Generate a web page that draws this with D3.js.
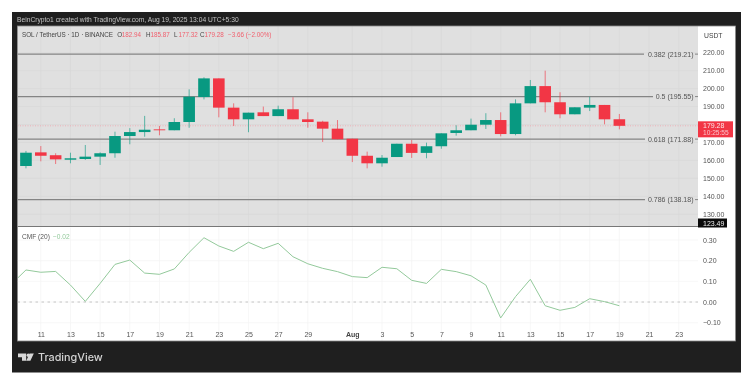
<!DOCTYPE html>
<html lang="en">
<head>
    <meta charset="UTF-8">
    <title>SOL / TetherUS 1D</title>
    <script src="https://d3js.org/d3.v7.min.js"></script>
    <style>
        html, body { margin: 0; padding: 0; background: #fff; overflow: hidden; }
        svg { display: block; filter: blur(0.45px); }
        text { font-family: "Liberation Sans", Arial, sans-serif; font-size: 7px; fill: #555; }
        .axis path, .axis line { display: none; }
        .axis text { font-family: "Liberation Sans", Arial, sans-serif; font-size: 7px; fill: #555; }
    </style>
</head>
<body>
    <svg width="752" height="386"></svg>
    <script>
        // Jul 10 -> Aug 19, one entry per candle
        const days = ["07-10","07-11","07-12","07-13","07-14","07-15","07-16","07-17","07-18","07-19","07-20","07-21","07-22","07-23","07-24","07-25","07-26","07-27","07-28","07-29","07-30","07-31","08-01","08-02","08-03","08-04","08-05","08-06","08-07","08-08","08-09","08-10","08-11","08-12","08-13","08-14","08-15","08-16","08-17","08-18","08-19"];
        const opens = [156.9,164.5,162.9,160.4,160.8,162.1,164,173.6,175.8,177.3,176.8,181.4,195.3,205.7,189.4,182.9,186.8,184.7,188.5,182.9,181.6,177.7,172.1,162.6,158.4,161.9,169.3,164.2,167.9,175.3,176.8,179.9,182.5,174.7,191.8,201.4,192.4,185.7,189.4,190.9,182.94];
        const highs = [165.3,168,164,164.3,168.6,164.5,176,178,184.8,179.2,183.5,199.6,206.3,205.7,191.8,186.6,190,190.5,195.2,186.8,182.1,182.5,172.1,164.9,163,169.3,171.4,169.9,175.1,179.6,183.3,186.3,186.8,194,204.8,210,198,189.6,195.5,190.9,185.87];
        const lows = [155.6,159.5,158,158.4,160.3,157.5,161.5,169,173.2,174,176.8,178.2,194,184,179.2,175.7,184.7,184.7,182.9,178.2,170.3,171.8,159.1,155.6,156.5,161.9,161.4,161.2,166.5,173.8,176.8,177.5,173.4,174,191.8,186.8,183.5,185.7,187.5,180.1,177.32];
        const closes = [164.3,162.6,160.6,161.2,162.1,164,173.6,175.8,177.1,176.8,181.4,195.5,205.7,189.4,182.9,186.6,184.7,188.5,182.9,181.4,177.7,171.8,162.6,158.4,161.5,169.3,164.2,167.9,175.1,176.8,179.9,182.5,174.7,191.8,201.4,192.4,185.7,189.6,190.9,182.9,179.28];

        // CMF has one more point than the candles, the Jul 9 value is cut by the pane edge
        const cmfDays = ["07-09"].concat(days);
        const cmfValues = [0.085,0.155,0.144,0.148,0.082,0.003,0.09,0.182,0.203,0.14,0.134,0.16,0.24,0.311,0.271,0.245,0.289,0.258,0.284,0.219,0.185,0.163,0.147,0.123,0.118,0.168,0.161,0.105,0.09,0.158,0.147,0.127,0.082,-0.077,0.026,0.11,-0.018,-0.04,-0.026,0.016,0.002,-0.018];

        const priceTicks = [220,210,200,190,170,160,150,140,130];
        const priceGrid = [220,210,200,190,180,170,160,150,140,130];
        const cmfTicks = [0.3,0.2,0.1,0,-0.1];
        const fibLevels = [0.382,0.5,0.618,0.786];
        const fibPrices = [219.21,195.55,171.88,138.18];
        const timeTicks = ["07-11","07-13","07-15","07-17","07-19","07-21","07-23","07-25","07-27","07-29","08-01","08-03","08-05","08-07","08-09","08-11","08-13","08-15","08-17","08-19","08-21","08-23"];

        const lastPrice = 179.28;
        const lowPrice = 123.49;

        const parseDay = s => new Date(`2025-${s}T00:00:00Z`);
        const plotLeft = 17.5, axisLeft = 698, plotRight = 735.5;
        const priceTop = 26, priceBottom = 226, cmfTop = 227.5, cmfBottom = 341;

        const x = d3.scaleUtc().domain([parseDay("07-11"), parseDay("08-23")]).range([40.8, 678.7]);
        const y = d3.scaleLinear().domain([220, 130]).range([52.7, 214.3]);
        const yCmf = d3.scaleLinear().domain([0.3, -0.1]).range([240, 322.7]);

        const svg = d3.select("svg");
        const defs = svg.append("defs");
        defs.append("clipPath").attr("id", "cmf-clip").append("rect")
            .attr("x", plotLeft).attr("y", cmfTop).attr("width", axisLeft - plotLeft).attr("height", cmfBottom - cmfTop);

        // frame and panes
        svg.append("rect").attr("x", 12).attr("y", 12).attr("width", 729).attr("height", 360.5).attr("fill", "#1f1f1f");
        svg.append("rect").attr("x", plotLeft).attr("y", priceTop).attr("width", plotRight - plotLeft).attr("height", cmfBottom - priceTop).attr("fill", "#fff");
        svg.append("rect").attr("x", plotLeft).attr("y", priceTop).attr("width", axisLeft - plotLeft).attr("height", priceBottom - priceTop).attr("fill", "#e0e0e0");

        // grid
        svg.append("g").selectAll("line").data(timeTicks).enter().append("line")
            .attr("x1", d => x(parseDay(d))).attr("x2", d => x(parseDay(d)))
            .attr("y1", priceTop).attr("y2", priceBottom).attr("stroke", "#d9d9d9").attr("stroke-width", 0.7);
        svg.append("g").selectAll("line").data(priceGrid).enter().append("line")
            .attr("x1", plotLeft).attr("x2", axisLeft)
            .attr("y1", d => y(d)).attr("y2", d => y(d)).attr("stroke", "#d9d9d9").attr("stroke-width", 0.7);
        svg.append("g").selectAll("line").data(timeTicks).enter().append("line")
            .attr("x1", d => x(parseDay(d))).attr("x2", d => x(parseDay(d)))
            .attr("y1", cmfTop).attr("y2", cmfBottom).attr("stroke", "#f3f3f3").attr("stroke-width", 0.7);
        svg.append("g").selectAll("line").data(cmfTicks).enter().append("line")
            .attr("x1", plotLeft).attr("x2", axisLeft)
            .attr("y1", d => yCmf(d)).attr("y2", d => yCmf(d)).attr("stroke", "#f3f3f3").attr("stroke-width", 0.7);

        // fib levels, the line stops where the label starts
        const fibEnds = [644, 653, 645, 645];
        const fibs = svg.append("g").selectAll("g").data(fibPrices).enter().append("g");
        fibs.append("line")
            .attr("x1", plotLeft).attr("x2", (d, i) => fibEnds[i])
            .attr("y1", d => y(d)).attr("y2", d => y(d))
            .attr("stroke", "#858585").attr("stroke-width", 1.3);
        fibs.append("line")
            .attr("x1", 695).attr("x2", 698)
            .attr("y1", d => y(d)).attr("y2", d => y(d))
            .attr("stroke", "#858585").attr("stroke-width", 1);
        fibs.append("text")
            .attr("x", 693.5).attr("y", d => y(d) + 2.5).attr("text-anchor", "end")
            .style("fill", "#555")
            .text((d, i) => `${fibLevels[i]} (${d3.format(".2f")(d)})`);

        // last price line
        svg.append("line")
            .attr("x1", plotLeft).attr("x2", axisLeft)
            .attr("y1", y(lastPrice)).attr("y2", y(lastPrice))
            .attr("stroke", "#f0a5ad").attr("stroke-width", 0.8).attr("stroke-dasharray", "1 1.5");

        // candles
        const green = "#089981", red = "#f23645";
        const candleW = 11.6;
        const candles = svg.append("g").selectAll("g").data(days).enter().append("g");
        candles.append("line")
            .attr("x1", d => x(parseDay(d))).attr("x2", d => x(parseDay(d)))
            .attr("y1", (d, i) => y(highs[i])).attr("y2", (d, i) => y(lows[i]))
            .attr("stroke", (d, i) => closes[i] >= opens[i] ? green : red)
            .attr("stroke-opacity", 0.7).attr("stroke-width", 0.9);
        candles.append("rect")
            .attr("x", d => x(parseDay(d)) - candleW / 2)
            .attr("width", candleW)
            .attr("y", (d, i) => y(Math.max(opens[i], closes[i])))
            .attr("height", (d, i) => Math.abs(y(opens[i]) - y(closes[i])))
            .attr("fill", (d, i) => closes[i] >= opens[i] ? green : red);

        // CMF pane
        svg.append("line")
            .attr("x1", plotLeft).attr("x2", axisLeft)
            .attr("y1", yCmf(0)).attr("y2", yCmf(0))
            .attr("stroke", "#bdbdbd").attr("stroke-width", 0.9).attr("stroke-dasharray", "2.5 3.5");
        const line = d3.line()
            .x((d, i) => x(parseDay(cmfDays[i])))
            .y(d => yCmf(d));
        svg.append("path").datum(cmfValues)
            .attr("clip-path", "url(#cmf-clip)")
            .attr("d", line)
            .attr("fill", "none").attr("stroke", "#93c99b").attr("stroke-width", 1);

        // pane borders
        svg.append("line").attr("x1", plotLeft).attr("x2", axisLeft).attr("y1", priceBottom + 0.5).attr("y2", priceBottom + 0.5)
            .attr("stroke", "#777").attr("stroke-width", 1.2);
        svg.append("rect").attr("x", plotLeft).attr("y", priceTop).attr("width", plotRight - plotLeft).attr("height", cmfBottom - priceTop)
            .attr("fill", "none").attr("stroke", "#8a8a8a").attr("stroke-width", 0.8);

        // axes
        svg.append("g").attr("class", "axis").attr("transform", "translate(699,0)")
            .call(d3.axisRight(y).tickValues(priceTicks).tickSize(0).tickPadding(4).tickFormat(d3.format(".2f")));
        svg.append("g").attr("class", "axis").attr("transform", "translate(699,0)")
            .call(d3.axisRight(yCmf).tickValues(cmfTicks).tickSize(0).tickPadding(4)
                .tickFormat(d => (d < 0 ? "\u2212" : "") + d3.format(".2f")(Math.abs(d))));
        const timeAxis = svg.append("g").attr("class", "axis").attr("transform", "translate(0,332)")
            .call(d3.axisBottom(x).tickValues(timeTicks.map(parseDay)).tickSize(0).tickPadding(0)
                .tickFormat(d => d.getUTCMonth() === 7 && d.getUTCDate() === 1 ? "Aug" : String(d.getUTCDate())));
        timeAxis.selectAll("text").filter(d => d.getUTCMonth() === 7 && d.getUTCDate() === 1)
            .style("font-weight", "bold").style("fill", "#444");

        // header and legends
        svg.append("text").attr("x", 17).attr("y", 22.4).style("fill", "#c4c4c4").style("font-size", "6.7px")
            .text("BeinCrypto1 created with TradingView.com, Aug 19, 2025 13:04 UTC+5:30");
        svg.append("text").attr("x", 704).attr("y", 37.5).style("font-size", "6.8px").style("fill", "#444").text("USDT");
        svg.append("text").attr("x", 22).attr("y", 37).style("fill", "#444").style("font-size", "6.3px").text("SOL / TetherUS \u00b7 1D \u00b7 BINANCE");

        const legendColor = "#f0606e";
        const legendParts = [["O", 117.3], ["H", 146], ["L", 174], ["C", 200]];
        const legendValues = ["182.94", "185.87", "177.32", "179.28"];
        legendParts.forEach((p, i) => {
            svg.append("text").attr("x", p[1]).attr("y", 37).style("fill", "#444").style("font-size", "6.3px").text(p[0]);
            svg.append("text").attr("x", p[1] + 4.5).attr("y", 37).style("fill", legendColor).style("font-size", "6.3px").text(legendValues[i]);
        });
        svg.append("text").attr("x", 228).attr("y", 37).style("fill", legendColor).style("font-size", "6.3px").text("\u22123.66 (\u22122.00%)");

        svg.append("text").attr("x", 22).attr("y", 238.5).style("fill", "#555").style("font-size", "6.6px").text("CMF (20)");
        svg.append("text").attr("x", 53).attr("y", 238.5).style("fill", "#93c99b").style("font-size", "6.6px").text("\u22120.02");

        // price tags on the axis
        svg.append("rect").attr("x", 698).attr("y", y(lastPrice) - 4.5).attr("width", 35).attr("height", 16).attr("fill", "#f23645");
        svg.append("text").attr("x", 703).attr("y", y(lastPrice) + 2).style("fill", "#fbe3e5").text(d3.format(".2f")(lastPrice));
        svg.append("text").attr("x", 703).attr("y", y(lastPrice) + 9.5).style("fill", "#fbc4ca").style("font-size", "6.6px").text("10:25:55");
        svg.append("rect").attr("x", 698).attr("y", 218.5).attr("width", 29).attr("height", 9).attr("fill", "#0a0a0a");
        svg.append("text").attr("x", 703).attr("y", 225.6).style("fill", "#eee").text(d3.format(".2f")(lowPrice));

        // TradingView mark
        const logo = svg.append("g").attr("fill", "#d8d8d8");
        logo.append("path").attr("d", "M18 353.5h8.2v7.2h-4.2v-3.4h-4z");
        logo.append("circle").attr("cx", 28.3).attr("cy", 355.2).attr("r", 1.7);
        logo.append("path").attr("d", "M29.6 353.5h4.2l-3.4 7.2h-4.2z");
        svg.append("text").attr("x", 38).attr("y", 361).style("fill", "#d4d4d4")
            .style("font-family", "Inter, 'Liberation Sans', sans-serif").style("font-size", "10.8px").style("font-weight", "500")
            .text("TradingView");
    </script>
</body>
</html>
